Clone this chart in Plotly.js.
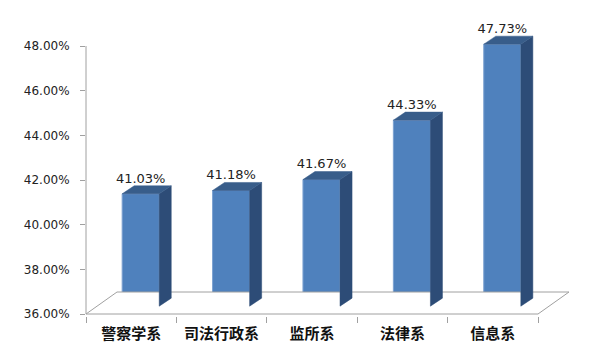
<!DOCTYPE html>
<html>
<head>
<meta charset="utf-8">
<script src="https://cdn.plot.ly/plotly-3.0.1.min.js"></script>
<style>html,body{margin:0;padding:0;background:#fff;}#chart{width:600px;height:360px;}</style>
</head>
<body>
<div id="chart"></div>
<script>
// ---- data ----
const categories = ['警察学系', '司法行政系', '监所系', '法律系', '信息系'];
const values = [41.03, 41.18, 41.67, 44.33, 47.73];
const valueLabels = ['41.03%', '41.18%', '41.67%', '44.33%', '47.73%'];
const yTickVals = [36, 38, 40, 42, 44, 46, 48];
const yTickText = ['36.00%', '38.00%', '40.00%', '42.00%', '44.00%', '46.00%', '48.00%'];

// ---- pseudo-3D geometry (in axis units) ----
const AXIS_MIN = 36;
const barOffset = 0.105;   // front face centre shift from category centre
const barWidth = 0.41;
const lift = 0.35;         // bars stand mid-way on the floor
const depthX = 0.133, depthY = 0.36;   // bar depth
const floorX = 0.343, floorY = 0.985;  // floor depth

const idx = categories.map((c, i) => i);
const xCenter = idx.map(i => i + barOffset);
const xLeft = xCenter.map(x => x - barWidth / 2);
const xRight = xCenter.map(x => x + barWidth / 2);
const yTop = values.map(v => v + lift);
const yBase = AXIS_MIN + lift;

// side faces
const sideX = [], sideY = [];
idx.forEach(i => {
  sideX.push(xRight[i], xRight[i] + depthX, xRight[i] + depthX, xRight[i], xRight[i], null);
  sideY.push(yBase, yBase + depthY, yTop[i] + depthY, yTop[i], yBase, null);
});
// top faces
const topX = [], topY = [];
idx.forEach(i => {
  topX.push(xLeft[i], xLeft[i] + depthX, xRight[i] + depthX, xRight[i], xLeft[i], null);
  topY.push(yTop[i], yTop[i] + depthY, yTop[i] + depthY, yTop[i], yTop[i], null);
});
// floor
const n = categories.length;
const floorXs = [-0.5, n - 0.5, n - 0.5 + floorX, -0.5 + floorX, -0.5];
const floorYs = [AXIS_MIN, AXIS_MIN, AXIS_MIN + floorY, AXIS_MIN + floorY, AXIS_MIN];

const gray = '#A0A0A0';
const traces = [
  {type: 'scatter', x: floorXs, y: floorYs, mode: 'lines', fill: 'toself',
   fillcolor: '#ffffff', line: {color: gray, width: 1}, hoverinfo: 'skip', showlegend: false},
  {type: 'bar', x: xCenter, y: values.map(v => v - AXIS_MIN), base: yBase, width: barWidth,
   marker: {color: '#4F81BD', line: {color: '#7DA2D1', width: 1}}, hoverinfo: 'skip', showlegend: false},
  {type: 'scatter', x: sideX, y: sideY, mode: 'lines', fill: 'toself',
   fillcolor: '#2D4C77', line: {color: '#2D4C77', width: 0.5}, hoverinfo: 'skip', showlegend: false},
  {type: 'scatter', x: topX, y: topY, mode: 'lines', fill: 'toself',
   fillcolor: '#385D8A', line: {color: '#385D8A', width: 0.5}, hoverinfo: 'skip', showlegend: false},
  {type: 'scatter', x: xCenter, y: yTop.map(t => t + depthY), mode: 'text', text: valueLabels,
   textposition: 'top center', textfont: {family: 'DejaVu Sans', size: 13, color: '#222'},
   cliponaxis: false, hoverinfo: 'skip', showlegend: false},
  // category axis carrier (invisible)
  {type: 'scatter', x: categories, y: values, mode: 'markers', marker: {opacity: 0},
   xaxis: 'x2', yaxis: 'y', hoverinfo: 'skip', showlegend: false}
];

const L = 86, R = 22, T = 20, B = 44;
const plotW = 600 - L - R;
const catPx = 90.4;
const xMax = -0.5 + plotW / catPx;
const pxPerPct = 268 / 12;
const yMin = 36 - 2 / pxPerPct;
const yMax = 48 + 26 / pxPerPct;

const layout = {
  width: 600, height: 360,
  margin: {l: L, r: R, t: T, b: B},
  paper_bgcolor: '#ffffff', plot_bgcolor: '#ffffff',
  showlegend: false,
  bargap: 0,
  xaxis: {type: 'linear', range: [-0.5, xMax], visible: false, fixedrange: true},
  xaxis2: {type: 'category', overlaying: 'x', anchor: 'y', side: 'bottom',
    categoryorder: 'array', categoryarray: categories,
    range: [-0.5, xMax], tickson: 'boundaries', ticks: 'outside', ticklen: 6,
    tickcolor: gray, tickwidth: 1, showgrid: false, zeroline: false, showline: false,
    tickfont: {family: 'Noto Sans CJK SC', size: 15, color: '#111', weight: 'bold'},
    ticklabelstandoff: 7},
  yaxis: {range: [yMin, yMax], tickvals: yTickVals, ticktext: yTickText,
    ticks: 'outside', ticklen: 5, tickcolor: gray, tickwidth: 1,
    showgrid: false, zeroline: false, showline: false,
    tickfont: {family: 'DejaVu Sans', size: 12, color: '#222'},
    ticklabelstandoff: 8, fixedrange: true},
  shapes: [
    {type: 'line', xref: 'paper', yref: 'y', x0: 0, x1: 0, y0: 36, y1: 48,
     line: {color: gray, width: 1}}
  ]
};

Plotly.newPlot('chart', traces, layout, {staticPlot: true, displayModeBar: false});
</script>
</body>
</html>
